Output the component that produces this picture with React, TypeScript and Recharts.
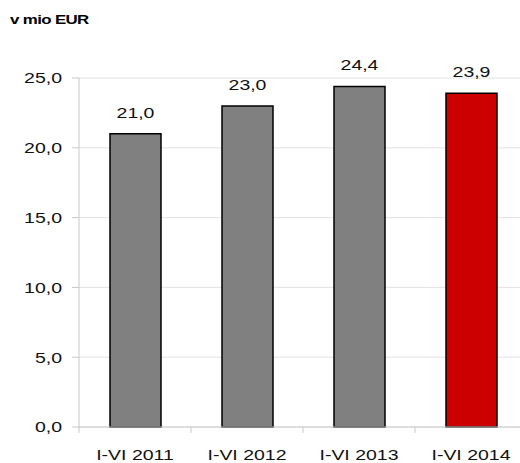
import React from "react";
import { Bar, BarChart, CartesianGrid, Cell, LabelList, XAxis, YAxis } from "recharts";

const periods = ["I-VI 2011", "I-VI 2012", "I-VI 2013", "I-VI 2014"];
const values = [21.0, 23.0, 24.4, 23.9];
const barColors = ["#808080", "#808080", "#808080", "#cc0000"];
const yTicks = [0, 5, 10, 15, 20, 25];

const data = periods.map((p, i) => ({ period: p, value: values[i] }));

const axisColor = "#c8c8c8";
const gridColor = "#e2e2e2";
const font = "'Liberation Sans', Arial, sans-serif";
const stretch = 1.3;
const halfBand = 56;

const fmt = (v: number) => v.toFixed(1).replace(".", ",");

function XTick(props: any) {
  const { x, y, payload, index } = props;
  return (
    <g>
      {index === 0 && <line x1={x - halfBand} y1={y} x2={x - halfBand} y2={y + 6} stroke={axisColor} />}
      <line x1={x + halfBand} y1={y} x2={x + halfBand} y2={y + 6} stroke={axisColor} />
      <text
        transform={`translate(${x},${y + 33}) scale(${stretch},1)`}
        textAnchor="middle"
        fontFamily={font}
        fontSize={15}
        fill="#111"
      >
        {payload.value}
      </text>
    </g>
  );
}

function YTick(props: any) {
  const { x, y, payload } = props;
  return (
    <text
      transform={`translate(${x - 10},${y}) scale(${stretch},1)`}
      textAnchor="end"
      dy="0.36em"
      fontFamily={font}
      fontSize={15}
      fill="#111"
    >
      {fmt(payload.value)}
    </text>
  );
}

function ValueLabel(props: any) {
  const { x, y, width, value } = props;
  return (
    <text
      transform={`translate(${x + width / 2},${y - 16}) scale(${stretch},1)`}
      textAnchor="middle"
      fontFamily={font}
      fontSize={15}
      fill="#111"
    >
      {fmt(value)}
    </text>
  );
}

export default function App() {
  return (
    <div style={{ position: "relative", width: 520, height: 463, overflow: "hidden" }}>
      <style>{`body{margin:0;overflow:hidden}`}</style>
      <div
        style={{
          position: "absolute",
          left: 10,
          top: 12,
          fontFamily: font,
          fontWeight: "bold",
          fontSize: 13,
          transform: `scaleX(${stretch})`,
          transformOrigin: "left top",
          whiteSpace: "nowrap",
          letterSpacing: -0.5,
        }}
      >
        v mio EUR
      </div>
      <BarChart
        width={535}
        height={463}
        data={data}
        margin={{ top: 78, right: 8, bottom: 0, left: 0 }}
        barCategoryGap={0}
      >
        <CartesianGrid vertical={false} stroke={gridColor} />
        <XAxis
          dataKey="period"
          height={36}
          stroke={axisColor}
          tickLine={false}
          tickSize={0}
          tickMargin={0}
          tick={<XTick />}
          interval={0}
        />
        <YAxis
          width={79}
          domain={[0, 25]}
          ticks={yTicks}
          stroke={axisColor}
          tickSize={7}
          tickMargin={0}
          tick={<YTick />}
          interval={0}
        />
        <Bar dataKey="value" barSize={51} stroke="#000" strokeWidth={1.5} isAnimationActive={false}>
          {data.map((_, i) => (
            <Cell key={i} fill={barColors[i]} />
          ))}
          <LabelList dataKey="value" content={<ValueLabel />} />
        </Bar>
      </BarChart>
    </div>
  );
}
